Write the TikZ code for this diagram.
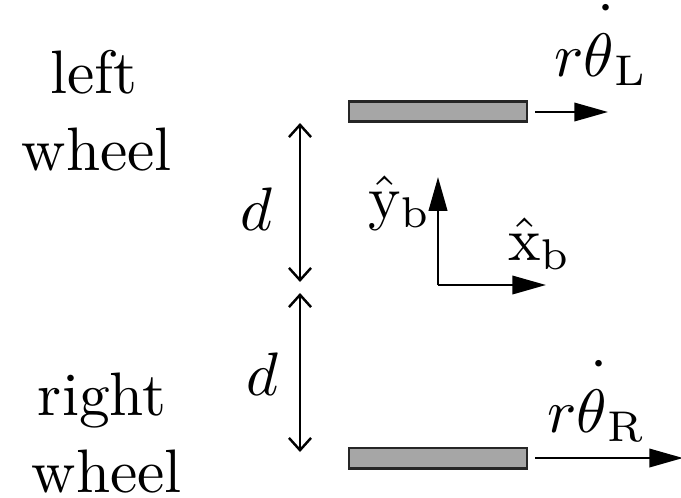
\documentclass[tikz,border=0pt]{standalone}
\usetikzlibrary{arrows.meta}
\newcommand\hidot[1]{\skew{4}{\dot}{\rule{0pt}{9.3pt}#1}}
\begin{document}
\begin{tikzpicture}[x=0.1629pt,y=-0.1629pt,line width=0.4pt,
  lbl/.style={inner sep=0pt,anchor=base},
  wheelbox/.style={draw=black!85,fill=black!35,line width=0.45pt,inner sep=0pt,minimum width=29pt,minimum height=3.3pt},
  solidarrow/.style={-{Triangle[length=5.5pt,width=3pt]}},
  dimarrow/.style={{Straight Barb[length=2pt,width=3.6pt]}-{Straight Barb[length=2pt,width=3.6pt]}}]
\useasboundingbox (0,0) rectangle (681,497);
% labels
\node[lbl] (lt) at (93.5,93) {left};
\node[lbl] (lw) at (97,170) {wheel};
\node[lbl] (rt) at (102,415) {right};
\node[lbl] (rw) at (107,492) {wheel};
\node[lbl] (d1) at (256,230) {$d$};
\node[lbl] (d2) at (262,395) {$d$};
% wheels
\node[wheelbox] (wl) at (438,111.5) {};
\node[wheelbox] (wr) at (438,458) {};
% velocity arrows
\coordinate (vls) at (535,112);
\coordinate (vle) at (608,112);
\coordinate (vrs) at (535,458);
\coordinate (vre) at (683,458);
\draw[solidarrow] (vls) -- (vle);
\draw[solidarrow] (vrs) -- (vre);
\node[lbl,anchor=base west] (tl) at (553,76) {$r\hidot{\theta}_{\mathrm{L}}$};
\node[lbl,anchor=base west] (tr) at (546,432) {$r\hidot{\theta}_{\mathrm{R}}$};
% dimension arrows
\coordinate (a1) at (300,123);
\coordinate (a2) at (300,282);
\coordinate (a3) at (300,293);
\coordinate (a4) at (300,452);
\draw[dimarrow] (a1) -- (a2);
\draw[dimarrow] (a3) -- (a4);
% body frame
\coordinate (o) at (438,285);
\coordinate (yb) at (438,177);
\coordinate (xb) at (546,285);
\draw[solidarrow] (o) -- (yb);
\draw[solidarrow] (o) -- (xb);
\node[lbl,anchor=base west] (ylab) at (367,218) {$\hat{\mathrm{y}}_{\mathrm{b}}$};
\node[lbl,anchor=base west] (xlab) at (507,260) {$\hat{\mathrm{x}}_{\mathrm{b}}$};
\end{tikzpicture}
\end{document}
